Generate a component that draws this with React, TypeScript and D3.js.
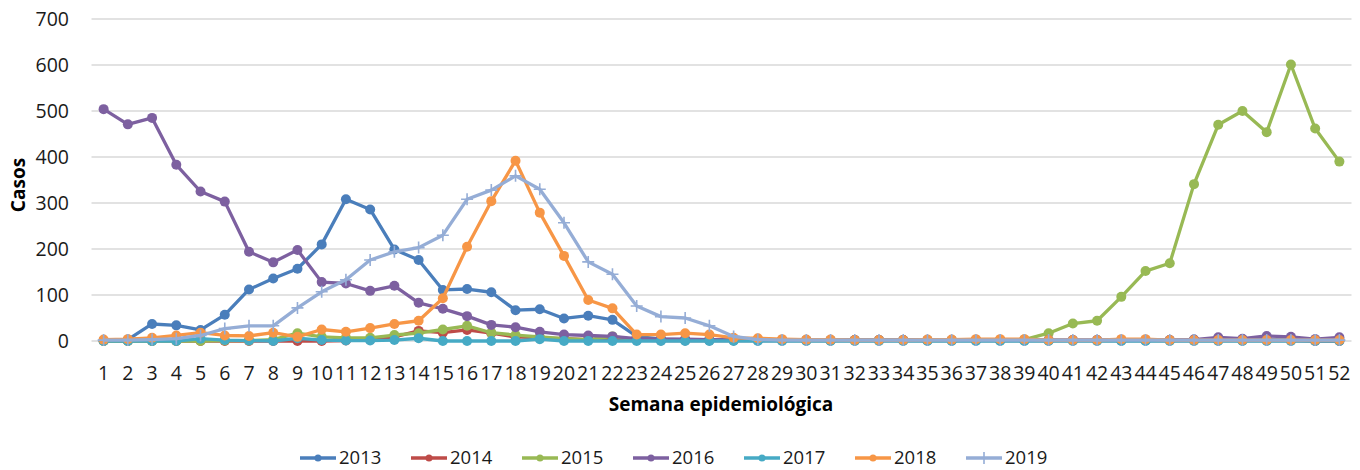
import React from "react";
import * as d3 from "d3";

const weeks = d3.range(1, 53);
const yTicks = [0, 100, 200, 300, 400, 500, 600, 700];

const cases2013 = [1, 3, 37, 34, 24, 57, 112, 136, 157, 210, 308, 286, 199, 176, 111, 113, 106, 67, 69, 49, 55, 46, 10, 4, 3, 3, 3, 2, 2, 2, 2, 2, 2, 2, 2, 2, 2, 2, 2, 2, 2, 2, 2, 2, 2, 3, 3, 3, 3, 3, 3, 3];
const cases2014 = [0, 0, 0, 0, 0, 0, 0, 0, 0, 0, 1, 3, 9, 22, 18, 24, 17, 9, 7, 5, 3, 3, 2, 1, 1, 1, 1, 1, 1, 1, 1, 1, 1, 1, 1, 1, 1, 1, 1, 1, 1, 1, 1, 1, 1, 1, 1, 1, 1, 1, 0, 0];
const cases2015 = [0, 0, 0, 0, 0, 1, 1, 3, 17, 9, 7, 7, 13, 17, 25, 33, 18, 13, 9, 5, 3, 10, 2, 2, 2, 2, 2, 2, 2, 2, 2, 2, 2, 2, 2, 2, 2, 2, 3, 17, 38, 44, 96, 152, 169, 341, 470, 500, 454, 601, 462, 390];
const cases2016 = [504, 471, 485, 383, 325, 303, 194, 171, 198, 128, 125, 109, 120, 83, 70, 54, 35, 30, 20, 14, 12, 10, 5, 4, 4, 3, 3, 2, 2, 2, 2, 2, 2, 2, 2, 2, 2, 2, 2, 2, 2, 2, 2, 2, 2, 3, 8, 5, 11, 9, 4, 8];
const cases2017 = [0, 0, 0, 0, 5, 2, 1, 0, 6, 2, 1, 1, 2, 6, 0, 0, 0, 0, 4, 0, 0, 0, 0, 0, 0, 0, 0, 0, 0, 0, 0, 0, 0, 0, 0, 0, 0, 0, 0, 0, 0, 0, 0, 0, 0, 0, 0, 0, 0, 0, 0, 0];
const cases2018 = [3, 4, 7, 12, 18, 12, 11, 18, 9, 25, 20, 28, 37, 44, 93, 205, 304, 392, 279, 185, 89, 71, 14, 14, 17, 14, 7, 6, 4, 3, 3, 2, 2, 2, 3, 3, 4, 4, 4, 2, 2, 2, 4, 4, 2, 2, 2, 2, 2, 2, 2, 2];
const cases2019 = [2, 2, 3, 5, 12, 27, 33, 33, 72, 107, 133, 176, 194, 203, 230, 308, 328, 359, 330, 257, 172, 145, 76, 53, 50, 33, 10, 3, 2, 2, 2, 2, 2, 2, 2, 2, 2, 2, 2, 2, 2, 2, 2, 2, 2, 2, 2, 2, 2, 2, 2, 2];

const seriesNames = ["2013", "2014", "2015", "2016", "2017", "2018", "2019"];
const seriesValues = [cases2013, cases2014, cases2015, cases2016, cases2017, cases2018, cases2019];
const seriesColors = ["#4a7ebb", "#be4b48", "#98b954", "#7d60a0", "#46aac5", "#f79646", "#95add6"];

const W = 1360;
const H = 470;
const FONT = "'Segoe UI', 'Open Sans', 'Noto Sans', sans-serif";

export default function App() {
  const x = d3.scaleBand<number>().domain(weeks).range([91.5, 1351.5]);
  const cx = (w: number) => (x(w) as number) + x.bandwidth() / 2;
  const y = d3.scaleLinear().domain([0, 700]).range([341, 19]);

  const line = d3
    .line<number>()
    .x((_, i) => cx(weeks[i]))
    .y((d) => y(d));

  const legendX0 = 300;
  const legendStep = 111;

  return (
    <svg
      width={W}
      height={H}
      style={{ position: "absolute", left: 0, top: 0, background: "#fff" }}
      fontFamily={FONT}
    >
      {/* grid + y labels */}
      {yTicks.map((t) => (
        <g key={t}>
          <line x1={91.5} x2={1351.5} y1={y(t)} y2={y(t)} stroke="#d9d9d9" strokeWidth={1.3} />
          <text x={69} y={y(t)} dy="0.35em" textAnchor="end" fontSize={19.5} fill="#1a1a1a">
            {t}
          </text>
        </g>
      ))}

      {/* x tick labels */}
      {weeks.map((w) => (
        <text key={w} x={cx(w)} y={373} dy="0.35em" textAnchor="middle" fontSize={19.5} fill="#1a1a1a">
          {w}
        </text>
      ))}

      {/* series */}
      {seriesValues.map((vals, si) => (
        <g key={seriesNames[si]}>
          <path d={line(vals) || ""} fill="none" stroke={seriesColors[si]} strokeWidth={3.3} strokeLinejoin="round" />
          {vals.map((v, i) =>
            seriesNames[si] === "2019" ? (
              <path
                key={i}
                d={`M${cx(weeks[i]) - 6},${y(v)}H${cx(weeks[i]) + 6}M${cx(weeks[i])},${y(v) - 6}V${y(v) + 6}`}
                stroke={seriesColors[si]}
                strokeWidth={1.6}
              />
            ) : (
              <circle key={i} cx={cx(weeks[i])} cy={y(v)} r={5} fill={seriesColors[si]} />
            )
          )}
        </g>
      ))}

      {/* axis titles */}
      <text
        transform="translate(18,185) rotate(-90)"
        textAnchor="middle"
        dy="0.35em"
        fontSize={19}
        fontWeight="bold"
        fill="#000"
      >
        Casos
      </text>
      <text x={721} y={404} dy="0.35em" textAnchor="middle" fontSize={19} fontWeight="bold" fill="#000">
        Semana epidemiológica
      </text>

      {/* legend */}
      {seriesNames.map((name, i) => {
        const lx = legendX0 + i * legendStep;
        const ly = 458;
        return (
          <g key={name}>
            <line x1={lx} x2={lx + 36} y1={ly} y2={ly} stroke={seriesColors[i]} strokeWidth={3.3} />
            {name === "2019" ? (
              <path d={`M${lx + 12},${ly}H${lx + 24}M${lx + 18},${ly - 6}V${ly + 6}`} stroke={seriesColors[i]} strokeWidth={1.6} />
            ) : (
              <circle cx={lx + 18} cy={ly} r={3.5} fill={seriesColors[i]} />
            )}
            <text x={lx + 39} y={ly} dy="0.35em" fontSize={18.5} fill="#1a1a1a">
              {name}
            </text>
          </g>
        );
      })}
    </svg>
  );
}
